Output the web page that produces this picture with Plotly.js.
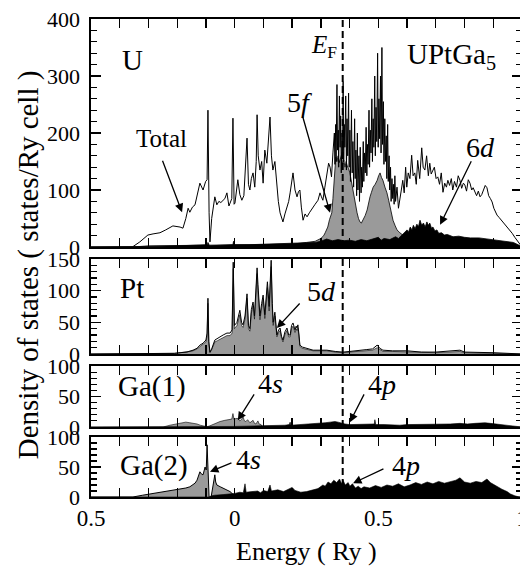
<!DOCTYPE html>
<html><head><meta charset="utf-8">
<script src="https://cdn.plot.ly/plotly-3.0.1.min.js"></script>
<style>html,body{margin:0;padding:0;overflow:hidden;background:#fff}#chart{width:524px;height:569px}</style>
</head><body><div id="chart"></div>
<script>
// [energy (Ry), DOS (states/Ry cell)]
const uTotal=[[-0.5,0],[-0.356,0],[-0.33,9],[-0.302,21],[-0.284,23],[-0.26,25],[-0.24,30],[-0.215,37],[-0.19,35],[-0.18,33],[-0.17,50],[-0.162,68],[-0.156,61],[-0.147,70],[-0.138,74],[-0.13,95],[-0.121,112],[-0.11,100],[-0.101,115],[-0.096,118],[-0.093,240],[-0.089,60],[-0.086,9],[-0.08,50],[-0.069,88],[-0.062,74],[-0.055,80],[-0.048,78],[-0.041,82],[-0.034,85],[-0.027,95],[-0.02,72],[-0.016,77],[-0.01,85],[-0.006,226],[-0.002,75],[0.001,77],[0.006,95],[0.011,118],[0.018,92],[0.025,82],[0.032,90],[0.038,140],[0.043,191],[0.048,110],[0.053,100],[0.058,120],[0.064,130],[0.07,105],[0.075,150],[0.078,232],[0.082,160],[0.088,135],[0.094,150],[0.099,112],[0.105,170],[0.112,147],[0.117,190],[0.123,228],[0.128,160],[0.133,135],[0.14,150],[0.147,105],[0.152,80],[0.158,60],[0.163,52],[0.168,44],[0.175,58],[0.182,70],[0.188,80],[0.193,95],[0.198,110],[0.203,130],[0.21,100],[0.217,88],[0.222,97],[0.227,100],[0.232,70],[0.238,47],[0.245,58],[0.252,53],[0.26,60],[0.267,66],[0.273,70],[0.28,75],[0.29,82],[0.297,95],[0.302,88],[0.307,82],[0.314,105],[0.321,130],[0.327,147],[0.332,140],[0.337,123],[0.342,165],[0.347,200],
[0.349,145],[0.3515,215],[0.353,150],[0.356,285],[0.358,170],[0.3605,205],[0.362,140],[0.3645,265],[0.367,175],[0.369,230],[0.371,130],[0.3735,200],[0.3755,160],[0.3775,290],[0.3795,150],[0.3815,215],[0.3835,175],[0.3865,265],[0.389,135],[0.391,225],[0.3935,160],[0.3965,270],[0.3985,140],[0.401,205],[0.403,115],[0.4065,240],[0.409,130],[0.4115,185],[0.414,105],[0.4175,225],[0.4195,120],[0.422,170],[0.4245,90],[0.427,200],[0.429,100],[0.4325,160],[0.4345,80],[0.437,175],[0.44,95],[0.442,140],[0.4445,105],[0.4475,185],[0.4495,115],[0.452,165],[0.4545,130],[0.4575,210],[0.46,125],[0.462,180],[0.4645,145],[0.4675,240],[0.4695,140],[0.472,205],[0.4745,165],[0.4775,260],[0.4795,150],[0.482,225],[0.4845,175],[0.4875,300],[0.4895,160],[0.492,245],[0.4945,185],[0.4975,340],[0.4995,175],[0.502,260],[0.5045,190],[0.5075,300],[0.5095,165],[0.5125,350],[0.5145,180],[0.5175,255],[0.5195,145],[0.5225,225],[0.5245,150],[0.5275,195],[0.5295,120],[0.5325,215],[0.5345,115],[0.5375,160],[0.5395,100],[0.5425,140],[0.5445,80],[0.5475,120],[0.55,85],[0.5525,110],[0.555,75],[0.5575,125],[0.56,80],[0.565,105],[0.57,68],[0.575,88],
[0.58,100],[0.585,117],[0.59,95],[0.595,140],[0.599,105],[0.604,130],[0.61,120],[0.616,161],[0.621,125],[0.627,130],[0.632,110],[0.637,152],[0.644,120],[0.651,174],[0.656,140],[0.662,135],[0.668,160],[0.674,125],[0.679,147],[0.684,128],[0.689,135],[0.695,140],[0.701,120],[0.707,123],[0.713,110],[0.719,130],[0.725,96],[0.731,112],[0.737,105],[0.742,117],[0.748,108],[0.754,120],[0.759,100],[0.765,115],[0.772,105],[0.778,125],[0.784,117],[0.79,103],[0.796,112],[0.801,109],[0.807,98],[0.813,118],[0.819,112],[0.825,100],[0.83,104],[0.836,95],[0.842,90],[0.848,98],[0.854,88],[0.86,92],[0.866,100],[0.872,108],[0.878,104],[0.884,90],[0.89,85],[0.896,79],[0.902,68],[0.907,62],[0.913,56],[0.92,52],[0.927,48],[0.934,44],[0.941,40],[0.948,35],[0.958,30],[0.966,24],[0.975,17],[0.983,12],[0.99,6],[0.997,2],[1.0,0]];

const u5f=[[-0.5,0],[-0.356,0],[-0.3,2],[-0.1,3],[0.0,3],[0.1,4],[0.2,5],[0.25,8],[0.28,10],[0.3,15],[0.31,20],[0.315,25],[0.324,35],[0.33,48],[0.338,60],[0.342,85],[0.345,105],[0.349,140],[0.352,158],[0.356,150],[0.36,160],[0.364,148],[0.368,155],[0.372,162],[0.376,145],[0.38,152],[0.384,140],[0.388,150],[0.392,142],[0.396,138],[0.401,130],[0.406,115],[0.412,95],[0.418,78],[0.426,60],[0.431,50],[0.436,44],[0.441,42],[0.447,47],[0.454,55],[0.461,65],[0.466,78],[0.471,88],[0.476,96],[0.482,105],[0.489,110],[0.496,117],[0.501,125],[0.506,130],[0.511,122],[0.516,117],[0.523,105],[0.53,95],[0.536,82],[0.541,70],[0.546,58],[0.551,47],[0.558,38],[0.565,30],[0.575,25],[0.6,15],[0.65,12],[0.7,10],[0.8,7],[0.9,5],[0.99,1],[1.0,0]];

const u6d=[[-0.5,0],[-0.356,0],[-0.3,1],[-0.2,2],[-0.12,3],[-0.095,4],[-0.093,8],[-0.088,2],[-0.05,3],[-0.006,4],[-0.004,10],[0.0,4],[0.05,4],[0.1,5],[0.15,5],[0.2,6],[0.25,7],[0.28,8],[0.3,10],[0.32,14],[0.34,11],[0.36,13],[0.38,11],[0.4,12],[0.42,10],[0.44,13],[0.46,11],[0.48,14],[0.5,17],[0.51,12],[0.52,15],[0.54,13],[0.56,18],[0.57,15],[0.58,20],[0.59,24],[0.6,30],[0.605,26],[0.611,35],[0.617,30],[0.622,38],[0.628,32],[0.634,40],[0.64,36],[0.645,47],[0.651,38],[0.657,42],[0.663,35],[0.669,44],[0.674,38],[0.679,42],[0.685,33],[0.69,35],[0.697,28],[0.704,30],[0.71,24],[0.72,25],[0.73,21],[0.74,22],[0.76,18],[0.78,19],[0.8,17],[0.82,16],[0.85,16],[0.88,14],[0.91,12],[0.94,10],[0.97,8],[0.99,3],[1.0,0]];

// [energy, Pt total, Pt 5d]
const ptDos=[[-0.5,0,0],[-0.235,0,0],[-0.21,1,1],[-0.19,2,2],[-0.166,3,3],[-0.145,6,5],[-0.131,9,8],[-0.121,14,12],[-0.11,17,15],[-0.1,22,19],[-0.096,33,28],[-0.093,88,80],[-0.09,20,17],[-0.086,3,2],[-0.08,8,7],[-0.069,22,19],[-0.06,25,21],[-0.051,27,23],[-0.04,30,26],[-0.027,33,29],[-0.016,33,29],[-0.009,38,33],[-0.005,145,135],[-0.001,45,40],[0.008,50,45],[0.018,69,62],[0.024,50,45],[0.029,46,42],[0.036,60,55],[0.043,95,88],[0.048,45,40],[0.053,40,36],[0.058,70,64],[0.064,82,76],[0.069,60,55],[0.074,95,88],[0.078,136,127],[0.081,110,100],[0.085,70,63],[0.088,60,54],[0.094,80,73],[0.099,93,86],[0.105,62,56],[0.11,90,82],[0.114,114,105],[0.12,75,68],[0.124,110,100],[0.127,148,138],[0.131,80,72],[0.134,50,45],[0.14,66,60],[0.147,30,27],[0.153,38,34],[0.158,41,37],[0.163,28,25],[0.168,22,19],[0.175,35,31],[0.182,41,37],[0.188,30,27],[0.193,30,27],[0.198,45,40],[0.203,49,44],[0.21,38,34],[0.214,44,40],[0.217,41,37],[0.22,46,41],[0.224,30,27],[0.227,14,12],[0.235,11,9],[0.252,9,7],[0.273,6,5],[0.3,6,5],[0.321,6,5],[0.35,4,3],[0.377,3,2],[0.4,4,3],[0.43,5,4],[0.46,7,5],[0.48,8,6],[0.496,14,10],[0.505,9,7],[0.516,6,4],[0.55,5,4],[0.6,5,3],[0.65,3,2],[0.7,3,2],[0.784,6,4],[0.8,3,2],[0.9,2,1],[1.0,0,0]];

const ga1s=[[-0.5,0],[-0.249,0],[-0.225,3],[-0.205,5],[-0.19,7],[-0.17,8],[-0.156,7],[-0.14,6],[-0.131,5],[-0.12,3],[-0.11,2],[-0.096,0.5],[-0.086,2],[-0.069,6],[-0.051,9],[-0.034,11],[-0.02,12],[-0.01,13],[-0.006,22],[-0.002,12],[0.004,14],[0.011,14],[0.018,10],[0.025,13],[0.029,17],[0.034,10],[0.039,9],[0.045,12],[0.053,7],[0.06,9],[0.064,11],[0.069,6],[0.074,5],[0.078,8],[0.081,10],[0.085,5],[0.092,4],[0.095,1],[0.15,1],[0.3,1],[0.5,1],[0.8,1],[1.0,0]];

const ga1p=[[-0.5,0],[-0.25,0],[-0.1,0.5],[0.0,1],[0.088,2],[0.1,2],[0.123,3],[0.15,3],[0.175,3],[0.19,4],[0.193,8],[0.196,3],[0.227,4],[0.25,4],[0.27,5],[0.297,6],[0.315,7],[0.332,8],[0.349,9],[0.36,8],[0.367,7],[0.384,5],[0.4,4],[0.43,4],[0.46,4],[0.486,5],[0.488,12],[0.491,4],[0.52,4],[0.575,3],[0.6,4],[0.645,4],[0.7,4],[0.714,5],[0.75,5],[0.784,6],[0.81,5],[0.836,6],[0.86,7],[0.871,7],[0.89,6],[0.906,5],[0.941,3],[0.976,1],[0.993,0],[1.0,0]];

const ga2s=[[-0.5,0],[-0.354,0],[-0.32,3],[-0.295,5],[-0.26,8],[-0.225,11],[-0.19,13],[-0.17,15],[-0.156,17],[-0.145,20],[-0.138,23],[-0.131,28],[-0.126,35],[-0.121,42],[-0.115,38],[-0.11,37],[-0.103,50],[-0.099,45],[-0.096,87],[-0.093,40],[-0.089,0],[-0.082,0],[-0.076,17],[-0.071,30],[-0.069,37],[-0.066,25],[-0.062,20],[-0.05,17],[-0.041,15],[-0.03,12],[-0.016,9],[-0.005,4],[0.001,1],[0.1,1],[0.5,1],[1.0,0]];

const ga2p=[[-0.5,0],[-0.089,0],[-0.08,2],[-0.069,3],[-0.04,4],[-0.016,5],[0.0,6],[0.018,8],[0.03,7],[0.036,22],[0.04,8],[0.06,9],[0.08,10],[0.09,7],[0.1,11],[0.115,9],[0.123,20],[0.128,10],[0.15,12],[0.17,9],[0.19,13],[0.2,16],[0.21,11],[0.23,8],[0.25,9],[0.27,12],[0.29,14],[0.307,20],[0.315,18],[0.325,25],[0.335,22],[0.345,28],[0.355,24],[0.365,30],[0.372,22],[0.377,28],[0.385,20],[0.395,24],[0.401,18],[0.41,22],[0.42,15],[0.43,18],[0.44,14],[0.45,17],[0.47,15],[0.49,19],[0.51,16],[0.53,20],[0.55,18],[0.57,22],[0.59,17],[0.61,20],[0.63,24],[0.65,21],[0.67,25],[0.69,22],[0.71,26],[0.73,23],[0.75,25],[0.77,28],[0.784,32],[0.8,25],[0.82,23],[0.84,26],[0.86,24],[0.878,30],[0.89,24],[0.913,17],[0.93,13],[0.948,9],[0.96,5],[0.975,2],[0.99,0],[1.0,0]];

const fermiEnergy=0.376;
const xTickVals=[-0.5,0,0.5,1];
const xTickText=['0.5','0','0.5','1'];

const FONT='Liberation Serif';
const GRAY='#9a9a9a';
const col=(a,i)=>a.map(p=>p[i]);

function fillTrace(d,i,xa,ya,color,lw){
  return {x:col(d,0),y:col(d,i),xaxis:xa,yaxis:ya,type:'scatter',mode:'lines',
    fill:'tozeroy',fillcolor:color,line:{color:'#000',width:lw},hoverinfo:'skip'};
}
function lineTrace(d,i,xa,ya){
  return {x:col(d,0),y:col(d,i),xaxis:xa,yaxis:ya,type:'scatter',mode:'lines',
    line:{color:'#000',width:1},hoverinfo:'skip'};
}

const traces=[
  fillTrace(u5f,1,'x','y',GRAY,0.8),
  fillTrace(u6d,1,'x','y','#000',0.8),
  lineTrace(uTotal,1,'x','y'),
  fillTrace(ptDos,2,'x2','y2',GRAY,0.6),
  lineTrace(ptDos,1,'x2','y2'),
  fillTrace(ga1s,1,'x3','y3',GRAY,0.6),
  fillTrace(ga1p,1,'x3','y3','#000',0.6),
  fillTrace(ga2s,1,'x4','y4',GRAY,1),
  fillTrace(ga2p,1,'x4','y4','#000',0.6)
];

function xax(anchor,labels){
  return {domain:[0,1],anchor:anchor,range:[-0.5,1.0],tickmode:'array',tickvals:xTickVals,ticktext:xTickText,
    showticklabels:labels,ticklabeloverflow:'allow',ticks:'inside',ticklen:9,tickwidth:1.3,tickcolor:'#000',
    minor:{ticks:'inside',tick0:0,dtick:0.1,ticklen:9,tickwidth:1.3,tickcolor:'#000'},
    showline:true,linewidth:1.6,linecolor:'#000',mirror:'allticks',showgrid:false,zeroline:false,
    tickfont:{family:FONT,size:23,color:'#000'}};
}
function yax(anchor,dom,max,dt,mdt){
  return {domain:dom,anchor:anchor,range:[0,max],tickmode:'linear',tick0:0,dtick:dt,
    ticks:'inside',ticklen:10,tickwidth:1.3,tickcolor:'#000',
    minor:{ticks:'inside',tick0:0,dtick:mdt,ticklen:6,tickwidth:1.1,tickcolor:'#000'},
    showline:true,linewidth:1.6,linecolor:'#000',mirror:'allticks',showgrid:false,zeroline:false,
    ticklabelstandoff:5,tickfont:{family:FONT,size:22,color:'#000'}};
}

const anns=[];
function txt(x,y,xr,yr,t,size){anns.push({x:x,y:y,xref:xr,yref:yr,text:t,showarrow:false,
  font:{family:FONT,size:size,color:'#000'},xanchor:'center',yanchor:'middle'});}
function arr(x0,y0,x1,y1,xr,yr){anns.push({x:x1,y:y1,ax:x0,ay:y0,xref:xr,yref:yr,axref:xr,ayref:yr,
  text:'',showarrow:true,arrowhead:2,arrowsize:1.3,arrowwidth:1.3,arrowcolor:'#000',standoff:0,startstandoff:0});}

txt(-0.356,328,'x','y','U',29);
txt(0.756,335,'x','y','UPtGa<sub>5</sub>',29);
txt(0.311,351,'x','y','<i>E</i><sub>F</sub>',25);
txt(-0.256,191,'x','y','Total',25);
arr(-0.253,154,-0.183,61,'x','y');
txt(0.224,253,'x','y','5<i>f</i>',28);
arr(0.235,232,0.332,60,'x','y');
txt(0.854,175,'x','y','6<i>d</i>',28);
arr(0.826,153,0.715,39,'x','y');
txt(-0.356,104,'x2','y2','Pt',29);
txt(0.301,99,'x2','y2','5<i>d</i>',28);
arr(0.231,82,0.147,41,'x2','y2');
txt(-0.286,66,'x3','y3','Ga(1)',29);
txt(0.123,72,'x3','y3','4<i>s</i>',28);
arr(0.071,56,0.011,11,'x3','y3');
txt(0.513,70,'x3','y3','4<i>p</i>',28);
arr(0.453,56,0.401,8,'x3','y3');
txt(-0.281,53,'x4','y4','Ga(2)',29);
txt(0.047,62,'x4','y4','4<i>s</i>',28);
arr(-0.006,58,-0.086,42,'x4','y4');
txt(0.596,53,'x4','y4','4<i>p</i>',28);
arr(0.523,48,0.412,23,'x4','y4');
txt(0.501,-0.113,'paper','paper','Energy ( Ry )',26);
anns.push({x:-0.146,y:0.485,xref:'paper',yref:'paper',text:'Density of states ( states/Ry cell )',
  textangle:-90,showarrow:false,font:{family:FONT,size:29,color:'#000'},xanchor:'center',yanchor:'middle'});

const shapes=['y','y2','y3','y4'].map((ya,i)=>({type:'line',xref:['x','x2','x3','x4'][i],yref:ya+' domain',
  x0:fermiEnergy,x1:fermiEnergy,y0:0,y1:1,line:{color:'#000',width:2,dash:'7px,4px'}}));

const layout={width:524,height:569,margin:{l:91,r:2,t:19,b:72},paper_bgcolor:'#fff',plot_bgcolor:'#fff',
  showlegend:false,hovermode:false,
  xaxis:xax('y',false),xaxis2:xax('y2',false),xaxis3:xax('y3',false),xaxis4:xax('y4',true),
  yaxis:yax('x',[0.523,1],400,100,20),
  yaxis2:yax('x2',[0.2992,0.4979],150,50,10),
  yaxis3:yax('x3',[0.1464,0.2741],100,50,10),
  yaxis4:yax('x4',[0,0.1255],100,50,10),
  annotations:anns,shapes:shapes};

Plotly.newPlot('chart',traces,layout,{staticPlot:true,displayModeBar:false});
</script></body></html>
